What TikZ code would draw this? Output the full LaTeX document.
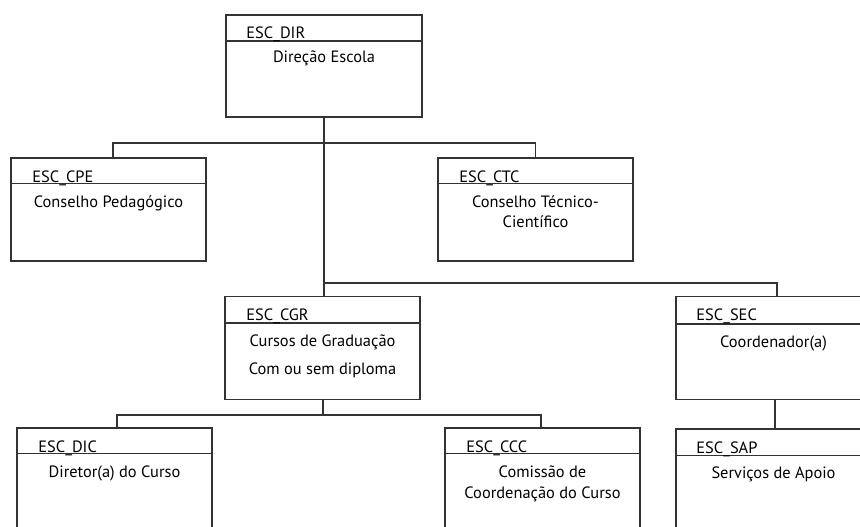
\documentclass[tikz,border=0pt]{standalone}
\usepackage{fontspec}
\setmainfont{PT Sans}
\begin{document}
\begin{tikzpicture}[x=1pt,y=-1pt,
  box/.style={draw=black!80, line width=1.5pt, minimum width=195pt, minimum height=103pt, inner sep=0pt},
  conn/.style={draw=black!80, line width=1.5pt},
  divider/.style={draw=black!80, line width=1.5pt},
  ttl/.style={anchor=base west, inner sep=0pt, font=\fontsize{16.4}{18}\selectfont},
  body/.style={anchor=base, inner sep=0pt, font=\fontsize{16.4}{18}\selectfont}]
\useasboundingbox[fill=white] (0,0) rectangle (860,527);
% boxes
\node[box, minimum width=196pt, minimum height=102pt] (dir) at (324,66) {};
\node[box] (cpe) at (108.5,209.5) {};
\node[box] (ctc) at (535.5,209.5) {};
\node[box] (cgr) at (322.5,348) {};
\node[box] (sec) at (773.5,348) {};
\node[box] (dic) at (114.5,479.5) {};
\node[box] (ccc) at (542.5,479.5) {};
\node[box] (sap) at (773.5,480.5) {};
% dividers
\foreach \n/\d in {dir/27,cpe/26,ctc/26,cgr/27,sec/28,dic/26,ccc/26,sap/27}
  \draw[divider] ([yshift=-\d pt]\n.north west) -- ([yshift=-\d pt]\n.north east);
% titles
\node[ttl] at ([xshift=21pt,yshift=-24pt]dir.north west) {ESC\_DIR};
\node[ttl] at ([xshift=22pt,yshift=-25pt]cpe.north west) {ESC\_CPE};
\node[ttl] at ([xshift=22pt,yshift=-25pt]ctc.north west) {ESC\_CTC};
\node[ttl] at ([xshift=22pt,yshift=-25pt]cgr.north west) {ESC\_CGR};
\node[ttl] at ([xshift=21pt,yshift=-25pt]sec.north west) {ESC\_SEC};
\node[ttl] at ([xshift=22pt,yshift=-25pt]dic.north west) {ESC\_DIC};
\node[ttl] at ([xshift=22pt,yshift=-25pt]ccc.north west) {ESC\_CCC};
\node[ttl] at ([xshift=21pt,yshift=-25pt]sap.north west) {ESC\_SAP};
% bodies
\node[body] at ([yshift=-48pt]dir.north) {Direção Escola};
\node[body] at ([yshift=-50pt]cpe.north) {Conselho Pedagógico};
\node[body] at ([yshift=-50pt]ctc.north) {Conselho Técnico-};
\node[body] at ([yshift=-70pt]ctc.north) {Científico};
\node[body] at ([yshift=-51pt]cgr.north) {Cursos de Graduação};
\node[body] at ([yshift=-79pt]cgr.north) {Com ou sem diploma};
\node[body] at ([yshift=-52pt]sec.north) {Coordenador(a)};
\node[body] at ([yshift=-50pt]dic.north) {Diretor(a) do Curso};
\node[body] at ([yshift=-50pt]ccc.north) {Comissão de};
\node[body] at ([yshift=-71pt]ccc.north) {Coordenação do Curso};
\node[body] at ([yshift=-50pt]sap.north) {Serviços de Apoio};
% connectors
\coordinate (b1) at (324,143);
\coordinate (b2) at (324,283);
\coordinate (b3) at (323,415);
\draw[conn] (dir.south) -- (dir.south |- cgr.north);
\draw[conn] ([xshift=4.5pt]cpe.north) |- (b1) -| (ctc.north);
\draw[conn] (b2) -| ([xshift=3.5pt]sec.north);
\draw[conn] ([xshift=0.5pt]cgr.south) -- (b3);
\draw[conn] ([xshift=2.5pt]dic.north) |- (b3) -| ([xshift=-1.5pt]ccc.north);
\draw[conn] ([xshift=1.5pt]sec.south) -- ([xshift=1.5pt]sap.north);
\end{tikzpicture}
\end{document}
